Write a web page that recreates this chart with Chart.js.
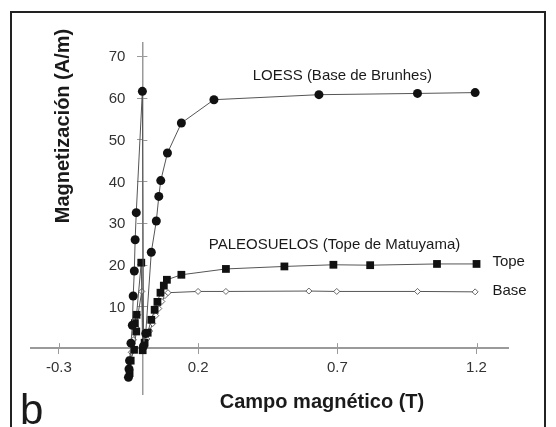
<!DOCTYPE html>
<html>
<head>
<meta charset="utf-8">
<script src="https://cdn.jsdelivr.net/npm/chart.js@4"></script>
<style>
  html, body { margin: 0; padding: 0; background: #fff; }
  #wrap { position: relative; width: 556px; height: 427px; overflow: hidden; }
  #frame { position: absolute; left: 10px; top: 11px; width: 532px; height: 440px; border: 2px solid #222; }
  canvas { position: absolute; left: 0; top: 0; }
</style>
</head>
<body>
<div id="wrap">
  <div id="frame"></div>
  <canvas id="out" width="556" height="427"></canvas>
</div>
<script>
// campo magnético (T) / magnetización (A/m)
const loessField = [-0.050, -0.048, -0.046, -0.041, -0.036, -0.033, -0.029, -0.026, -0.022, 0.000,
  0.004, 0.012, 0.032, 0.050, 0.059, 0.066, 0.090, 0.140, 0.257, 0.634, 0.988, 1.195];
const loessMag = [-7.0, -5.0, -3.0, 1.2, 5.5, 12.5, 18.5, 26.0, 32.5, 61.6,
  0.5, 3.5, 23.0, 30.5, 36.4, 40.2, 46.8, 54.0, 59.6, 60.8, 61.1, 61.3];

const topeField = [-0.046, -0.042, -0.030, -0.022, -0.027, -0.021, -0.004,
  0.001, 0.008, 0.019, 0.032, 0.044, 0.054, 0.065, 0.077, 0.088, 0.140, 0.300, 0.510, 0.686, 0.818, 1.058, 1.200];
const topeMag = [-6.0, -3.0, -0.4, 4.0, 6.0, 8.0, 20.5,
  -0.5, 1.3, 3.7, 6.8, 9.2, 11.1, 13.3, 15.0, 16.4, 17.6, 19.0, 19.6, 20.0, 19.9, 20.2, 20.2];

const baseField = [-0.045, -0.040, -0.032, -0.024, -0.016, -0.002,
  0.006, 0.016, 0.026, 0.037, 0.048, 0.059, 0.070, 0.081, 0.092, 0.200, 0.300, 0.598, 0.698, 0.988, 1.195];
const baseMag = [-5.0, -1.0, 2.0, 5.0, 8.0, 13.6,
  0.5, 2.2, 4.1, 5.9, 7.8, 9.5, 11.2, 12.6, 13.3, 13.6, 13.6, 13.7, 13.6, 13.6, 13.5];

const xTicks = [-0.3, 0.2, 0.7, 1.2];
const yTicks = [10, 20, 30, 40, 50, 60, 70];

const toPoints = (xs, ys) => xs.map((v, i) => ({x: v, y: ys[i]}));

const FONT = '"Liberation Sans", Arial, sans-serif';
const AXIS_GREY = "#9a9a9a";

// inner half of the tick marks, y tick labels, texts
const extras = {
  id: "extras",
  beforeDatasetsDraw(chart) {
    const {ctx, scales: {x, y}} = chart;
    const axisY = y.getPixelForValue(0);
    const axisX = x.getPixelForValue(0);
    ctx.save();
    ctx.strokeStyle = AXIS_GREY;
    ctx.lineWidth = 1;
    x.ticks.forEach(t => {
      const px = Math.round(x.getPixelForValue(t.value)) + 0.5;
      ctx.beginPath(); ctx.moveTo(px, axisY - 5); ctx.lineTo(px, axisY); ctx.stroke();
    });
    y.ticks.forEach(t => {
      const py = Math.round(y.getPixelForValue(t.value)) + 0.5;
      ctx.beginPath(); ctx.moveTo(axisX, py); ctx.lineTo(axisX + 5, py); ctx.stroke();
    });
    ctx.fillStyle = "#333";
    ctx.font = "15px " + FONT;
    ctx.textAlign = "right";
    ctx.textBaseline = "middle";
    y.ticks.forEach(t => {
      ctx.fillText(String(t.value), axisX - 17, y.getPixelForValue(t.value) + 1);
    });
    ctx.restore();
  },
  afterDraw(chart) {
    const {ctx, scales: {x, y}} = chart;
    ctx.save();
    ctx.fillStyle = "#1a1a1a";
    ctx.textBaseline = "middle";
    ctx.font = "15px " + FONT;
    ctx.textAlign = "center";
    ctx.fillText("LOESS (Base de Brunhes)", x.getPixelForValue(0.718), y.getPixelForValue(65.3));
    ctx.fillText("PALEOSUELOS (Tope de Matuyama)", x.getPixelForValue(0.69), y.getPixelForValue(24.8));
    ctx.textAlign = "left";
    ctx.fillText("Tope", x.getPixelForValue(1.257), y.getPixelForValue(20.7));
    ctx.fillText("Base", x.getPixelForValue(1.257), y.getPixelForValue(13.8));

    ctx.font = "bold 20px " + FONT;
    ctx.textAlign = "center";
    ctx.fillText("Campo magnético (T)", 322, 402);
    ctx.save();
    ctx.translate(63, 126);
    ctx.rotate(-Math.PI / 2);
    ctx.fillText("Magnetización (A/m)", 0, 0);
    ctx.restore();

    ctx.font = "42px " + FONT;
    ctx.textAlign = "left";
    ctx.textBaseline = "alphabetic";
    ctx.fillText("b", 20, 424);
    ctx.restore();
  }
};

const ctx = document.getElementById("out").getContext("2d");
new Chart(ctx, {
  type: "scatter",
  data: {
    datasets: [
      {
        label: "LOESS",
        data: toPoints(loessField, loessMag),
        showLine: true,
        borderColor: "#555",
        borderWidth: 1,
        pointStyle: "circle",
        pointRadius: 4.5,
        pointBackgroundColor: "#111",
        pointBorderColor: "#111",
        pointBorderWidth: 0
      },
      {
        label: "Tope",
        data: toPoints(topeField, topeMag),
        showLine: true,
        borderColor: "#555",
        borderWidth: 1,
        pointStyle: "rect",
        pointRadius: 5.5,
        pointBackgroundColor: "#111",
        pointBorderColor: "#111",
        pointBorderWidth: 0
      },
      {
        label: "Base",
        data: toPoints(baseField, baseMag),
        showLine: true,
        borderColor: "#555",
        borderWidth: 1,
        pointStyle: "rectRot",
        pointRadius: 3,
        pointBackgroundColor: "#fff",
        pointBorderColor: "#444",
        pointBorderWidth: 0.8
      }
    ]
  },
  options: {
    responsive: false,
    animation: false,
    layout: { padding: { left: 31, right: 48, top: 43, bottom: 33 } },
    plugins: { legend: { display: false }, tooltip: { enabled: false } },
    scales: {
      x: {
        type: "linear",
        min: -0.40,
        max: 1.313,
        position: { y: 0 },
        afterBuildTicks: s => { s.ticks = xTicks.map(v => ({value: v})); },
        ticks: {
          color: "#333",
          font: { family: FONT, size: 15 },
          padding: 6,
          callback: v => v.toFixed(1)
        },
        grid: { drawOnChartArea: false, color: AXIS_GREY, tickLength: 5 },
        border: { color: AXIS_GREY, width: 2 }
      },
      y: {
        type: "linear",
        min: -11,
        max: 73.2,
        position: { x: 0 },
        afterBuildTicks: s => { s.ticks = yTicks.map(v => ({value: v})); },
        ticks: { display: false },
        grid: { drawOnChartArea: false, color: AXIS_GREY, tickLength: 5 },
        border: { color: AXIS_GREY, width: 1.5 }
      }
    }
  },
  plugins: [extras]
});
</script>
</body>
</html>
